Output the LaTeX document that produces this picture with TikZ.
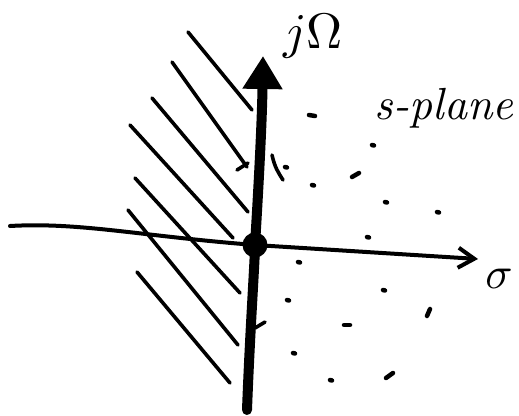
\documentclass[tikz,border=0pt]{standalone}
\usetikzlibrary{arrows.meta}
\begin{document}
\begin{tikzpicture}[x=1pt,y=-1pt,
  hatch/.style={line width=3.6pt,line cap=round},
  axisv/.style={line width=10pt,line cap=round},
  axish/.style={line width=4pt,line cap=round},
  dot/.style={line width=4.5pt,line cap=round},
  lbl/.style={inner sep=0pt}]
\useasboundingbox (0,0) rectangle (519,415);
% hatch lines
\draw[hatch] (188,32) -- (252,110);
\draw[hatch] (172,62) -- (247,167);
\draw[hatch] (152,98) -- (248,212);
\draw[hatch] (130,125) -- (233,238);
\draw[hatch] (135,178) -- (240,293);
\draw[hatch] (128,210) -- (238,345);
\draw[hatch] (137,272) -- (230,383);
% axes
\coordinate (vbot) at (247,410);
\coordinate (vtop) at (263,56);
\coordinate (hleft) at (10,226);
\coordinate (hright) at (478,259);
\node[circle,fill=black,minimum size=25pt,inner sep=0pt] (o) at (255,245) {};
\draw[axisv,-{Triangle[length=33pt,width=38pt]}] (vbot) .. controls (250,330) and (255,260) .. (o.center) .. controls (259,180) and (262,120) .. (vtop);
\draw[axish] (hleft) .. controls (80,222) and (140,236) .. (o.center);
\draw[axish,-{Straight Barb[length=16pt,width=20pt,line width=4pt]}] (o.center) -- (hright);
% ticks on vertical axis
\draw[line width=3.6pt,line cap=round] (237,170) -- (248,163);
\draw[line width=3.6pt,line cap=round] (272,155) .. controls (275,168) and (278,172) .. (283,180);
\draw[line width=3.6pt,line cap=round] (255,328) -- (265,322);
% dots
\foreach \p in {(372,145),(285,167),(312,185),(385,202),(437,212),(367,237),(298,262),(383,290),(287,300),(293,353),(330,380)}
  \draw[dot] \p -- ++(2,0.5);
\draw[dot] (309,115) -- (315,116);
\draw[dot] (352,177) -- (359,173);
\draw[dot] (344,325) -- (350,325);
\draw[dot] (427,316) -- (430,309);
\draw[dot] (386,378) -- (393,373);
% labels
\node[lbl,scale=5] (jw) at (313,36) {$j\Omega$};
\node[lbl,scale=4.5] (sp) at (444,108) {\itshape s-plane};
\node[lbl,scale=4.5] (sig) at (499,279) {$\sigma$};
\end{tikzpicture}
\end{document}
